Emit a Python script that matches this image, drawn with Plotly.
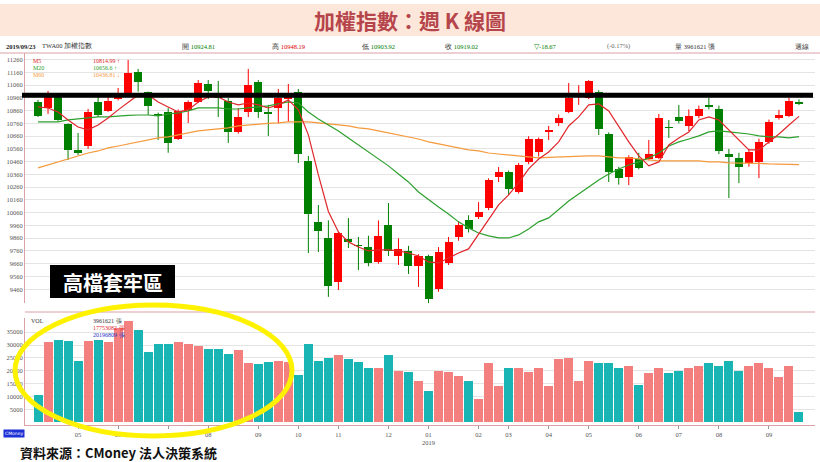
import plotly.graph_objects as go

# ---------------- data ----------------
dates = ["2018-04-02","2018-04-09","2018-04-16","2018-04-23","2018-04-30","2018-05-07","2018-05-14","2018-05-21",
         "2018-05-28","2018-06-04","2018-06-11","2018-06-18","2018-06-25","2018-07-02","2018-07-09","2018-07-16",
         "2018-07-23","2018-07-30","2018-08-06","2018-08-13","2018-08-20","2018-08-27","2018-09-03","2018-09-10",
         "2018-09-17","2018-09-24","2018-10-01","2018-10-08","2018-10-15","2018-10-22","2018-10-29","2018-11-05",
         "2018-11-12","2018-11-19","2018-11-26","2018-12-03","2018-12-10","2018-12-17","2018-12-24","2018-12-31",
         "2019-01-07","2019-01-14","2019-01-21","2019-01-28","2019-02-11","2019-02-18","2019-02-25","2019-03-04",
         "2019-03-11","2019-03-18","2019-03-25","2019-04-01","2019-04-08","2019-04-15","2019-04-22","2019-04-29",
         "2019-05-06","2019-05-13","2019-05-20","2019-05-27","2019-06-03","2019-06-10","2019-06-17","2019-06-24",
         "2019-07-01","2019-07-08","2019-07-15","2019-07-22","2019-07-29","2019-08-05","2019-08-12","2019-08-19",
         "2019-08-26","2019-09-02","2019-09-09","2019-09-16","2019-09-23"]

open_ = [10931,10884,10970,10755,10551,10583,10931,10860,10950,10997,
         11166,11004,10830,10850,10640,10865,10931,11070,10965,10936,
         10694,10850,11088,10850,10881,10955,11009,10465,9987,9862,
         9516,9853,9805,9790,9673,9964,9720,9760,9643,9720,
         9460,9666,9866,10000,10026,10096,10339,10379,10222,10455,
         10534,10700,10763,10850,10975,10960,11006,10677,10402,10339,
         10481,10481,10489,10730,10810,10740,10818,10905,10873,10520,
         10489,10450,10455,10614,10803,10818,10924.81]

high = [10945,11015,10980,10760,10685,10873,10970,10990,11038,11258,
        11187,11010,10845,10880,10870,10940,11100,11100,11093,10960,
        10880,11187,11100,10905,11030,11069,11030,10505,10120,10000,
        9910,10018,9870,9880,9999,10136,9860,9800,9735,9730,
        9790,9870,9990,10040,10143,10330,10418,10390,10450,10660,
        10650,10740,10830,11077,11060,11100,11020,10690,10420,10510,
        10530,10630,10834,10787,10905,10870,10900,10960,10900,10560,
        10530,10560,10640,10790,10866,10960,10948.19]

low = [10810,10834,10780,10473,10512,10560,10810,10850,10940,10980,
       11009,10826,10630,10530,10630,10763,10920,10950,10810,10607,
       10680,10810,10803,10661,10760,10772,10450,9744,9752,9400,
       9454,9783,9610,9640,9660,9720,9650,9580,9478,9320,
       9440,9650,9840,9905,10010,10080,10300,10200,10210,10440,
       10500,10630,10740,10840,10905,10950,10669,10300,10280,10276,
       10400,10470,10480,10646,10760,10700,10800,10870,10520,10175,
       10292,10420,10331,10600,10790,10810,10903.92]

close = [10819,10970,10787,10551,10528,10852,10826,10939,10990,11153,
         11088,10899,10822,10607,10858,10928,11077,11015,10960,10694,
         10810,11062,10848,10835,10960,10990,10518,10050,9916,9486,
         9900,9830,9799,9666,9877,9760,9772,9643,9720,9383,
         9752,9830,9960,9929,10065,10316,10379,10246,10434,10636,
         10636,10708,10803,10960,10980,11093,10716,10378,10331,10496,
         10410,10520,10803,10724,10779,10818,10873,10889,10543,10496,
         10418,10536,10614,10771,10826,10937.69,10919.02]

ma5 = [10889,10881,10850,10787,10732,10709,10748,10803,10866,10928,
       10983,10983,10928,10889,10850,10866,10928,10968,10968,10928,
       10905,10920,10905,10881,10905,10944,10866,10670,10356,10070,
       9909,9831,9791,9760,9768,9768,9760,9744,9721,9674,
       9666,9705,9744,9776,9893,10003,10121,10199,10293,10403,
       10481,10536,10615,10740,10811,10905,10913,10858,10732,10615,
       10505,10427,10458,10591,10646,10693,10787,10811,10787,10709,
       10630,10552,10552,10615,10677,10748,10814.99]

ma20 = [10772,10772,10772,10787,10795,10803,10811,10811,10819,10823,
        10826,10826,10819,10834,10842,10858,10881,10881,10881,10873,
        10873,10881,10889,10897,10913,10928,10920,10850,10795,10748,
        10701,10646,10591,10536,10481,10427,10364,10301,10222,10160,
        10105,10050,9988,9941,9901,9878,9862,9862,9886,9933,
        9988,10019,10082,10152,10207,10262,10317,10364,10403,10434,
        10458,10489,10528,10583,10615,10638,10662,10693,10701,10693,
        10685,10677,10662,10654,10654,10646,10656.6]

ma60 = [10411,10434,10458,10481,10505,10528,10544,10568,10583,10599,
        10615,10630,10646,10654,10670,10685,10701,10709,10717,10725,
        10740,10748,10756,10760,10764,10772,10772,10772,10764,10756,
        10748,10740,10725,10717,10701,10685,10670,10654,10638,10615,
        10599,10583,10568,10552,10544,10528,10520,10513,10505,10497,
        10489,10493,10497,10497,10501,10505,10505,10497,10489,10489,
        10481,10474,10466,10466,10466,10466,10466,10458,10458,10450,
        10450,10450,10446,10442,10442,10440,10436.81]

# weekly volume, in thousands of lots
volume = [10500,31000,32000,31500,24000,31500,32000,31000,36500,39500,
          36000,27500,30500,30500,31000,30500,29500,28500,28500,26500,
          28000,23000,22500,23500,24000,23500,18500,30500,24000,25000,
          26000,24500,23500,21000,21000,26000,20000,19500,16000,12000,
          20000,19500,18000,16000,9000,23000,14000,21000,21000,19500,
          21000,14000,24500,25000,16000,24000,23000,23000,21000,22000,
          14500,19000,21000,19000,20000,21000,22000,23000,22000,24000,
          20000,22000,23000,21000,17500,22000,3961.621]

month_idx = [4, 8, 13, 17, 22, 26, 30, 35, 39, 44, 47, 51, 55, 60, 64, 68, 73]
month_lbl = ["05","06","07","08","09","10","11","12","01<br>2019","02","03","04","05","06","07","08","09"]
price_ticks = [9460,9560,9660,9760,9860,9960,10060,10160,10260,10360,10460,10560,10660,10760,10860,10960,11060,11160,11260]
vol_ticks = [5000,10000,15000,20000,25000,30000,35000]
resistance = 10980

# ---------------- styling helpers ----------------
W, H = 820, 462
ML, MR, MT, MB = 25, 5, 53, 37
PW, PH = W - ML - MR, H - MT - MB
def px(x): return (x - ML) / PW
def py(y): return (H - MB - y) / PH

UP, DN = "#ff0000", "#008000"
VUP, VDN = "#f47f7f", "#19b4b4"
SERIF = "Liberation Serif"

fig = go.Figure()

up = [c >= o for o, c in zip(open_, close)]

# wicks
for flag, col in ((True, UP), (False, DN)):
    xs, ys = [], []
    for d, h_, l_, u in zip(dates, high, low, up):
        if u == flag:
            xs += [d, d, None]
            ys += [l_, h_, None]
    fig.add_trace(go.Scatter(x=xs, y=ys, mode="lines", line=dict(color=col, width=1),
                             hoverinfo="skip", showlegend=False, xaxis="x", yaxis="y"))

# bodies
for flag, col in ((True, UP), (False, DN)):
    xs = [d for d, u in zip(dates, up) if u == flag]
    base = [min(o, c) for o, c, u in zip(open_, close, up) if u == flag]
    hgt = [max(abs(c - o), 7) for o, c, u in zip(open_, close, up) if u == flag]
    fig.add_trace(go.Bar(x=xs, y=hgt, base=base, width=0.8, marker=dict(color=col, line=dict(width=0)),
                         showlegend=False, xaxis="x", yaxis="y"))

# moving averages
for vals, col in ((ma60, "#f59a3c"), (ma20, "#2ca02c"), (ma5, "#e0262b")):
    fig.add_trace(go.Scatter(x=dates, y=vals, mode="lines", line=dict(color=col, width=1.2),
                             showlegend=False, xaxis="x", yaxis="y"))

# volume
fig.add_trace(go.Bar(x=dates, y=volume, width=0.9,
                     marker=dict(color=[VUP if u else VDN for u in up], line=dict(width=0)),
                     showlegend=False, xaxis="x", yaxis="y2"))

fig.update_layout(
    width=W, height=H, margin=dict(l=ML, r=MR, t=MT, b=MB),
    paper_bgcolor="white", plot_bgcolor="white", barmode="overlay", bargap=0,
    showlegend=False,
    xaxis=dict(type="category", categoryorder="array", categoryarray=dates,
               range=[-1.3, 77.6], anchor="y2",
               tickmode="array", tickvals=[dates[i] for i in month_idx], ticktext=month_lbl,
               tickfont=dict(size=6.5, family=SERIF, color="#555"), tickangle=0,
               ticks="outside", ticklen=3, tickcolor="#999",
               showline=True, linecolor="#d9a0a6", showgrid=False, zeroline=False),
    yaxis=dict(domain=[py(303), 1.0], range=[9352, 11312], tickvals=price_ticks, tickformat="d",
               tickfont=dict(size=6.5, family=SERIF, color="#555"),
               showgrid=True, gridcolor="#e4e4e4", gridwidth=1,
               showline=True, linecolor="#d9a0a6", zeroline=False, ticks=""),
    yaxis2=dict(domain=[0, py(318)], range=[-1000, 40500], tickvals=vol_ticks, tickformat="d",
                tickfont=dict(size=6.5, family=SERIF, color="#555"),
                showgrid=True, gridcolor="#e4e4e4", gridwidth=1,
                showline=True, linecolor="#d9a0a6", zeroline=False, ticks=""),
)

shapes = []
shapes.append(dict(type="rect", xref="paper", yref="paper", x0=px(0), x1=px(820), y0=py(36), y1=py(4),
                   fillcolor="#fde6da", line=dict(width=0), layer="below"))
shapes.append(dict(type="line", xref="paper", yref="paper", x0=px(0), x1=px(820), y0=py(53), y1=py(53),
                   line=dict(color="#d9a0a6", width=1)))
shapes.append(dict(type="line", xref="paper", yref="paper", x0=0, x1=1, y0=py(312), y1=py(312),
                   line=dict(color="#d9a0a6", width=1)))
shapes.append(dict(type="line", xref="paper", yref="y", x0=px(22), x1=px(813), y0=resistance, y1=resistance,
                   line=dict(color="black", width=5)))
shapes.append(dict(type="rect", xref="paper", yref="paper", x0=px(50), x1=px(175), y0=py(298), y1=py(265),
                   fillcolor="black", line=dict(width=0)))
shapes.append(dict(type="circle", xref="paper", yref="paper", x0=px(15), x1=px(292), y0=py(436), y1=py(305),
                   line=dict(color="#fff200", width=5)))
fig.update_layout(shapes=shapes)

ann = []
def txt(x, y, s, size=6.5, color="#333", family=SERIF, xanchor="left", bold=False):
    ann.append(dict(x=px(x), y=py(y), xref="paper", yref="paper", text=("<b>%s</b>" % s) if bold else s,
                    showarrow=False, xanchor=xanchor, yanchor="middle",
                    font=dict(size=size, color=color, family=family)))

txt(410, 20, "加權指數：週 K 線圖", size=21, color="#b5454b", family="Noto Sans CJK TC", xanchor="center", bold=True)
txt(4, 46, "2019/09/23", bold=True, color="#222")
txt(40, 46, "TWA00 加權指數", color="#333")
txt(180, 46, "開 <span style='color:#008000'>10924.81</span>")
txt(270, 46, "高 <span style='color:#e00000'>10948.19</span>")
txt(360, 46, "低 <span style='color:#008000'>10903.92</span>")
txt(443, 46, "收 <span style='color:#008000'>10919.02</span>")
txt(532, 46, "▽-18.67", color="#008000")
txt(605, 46, "(-0.17%)", color="#666")
txt(673, 46, "量 3961621 張")
txt(793, 46, "週線")
txt(31, 61, "M5", size=6, color="#e0262b")
txt(31, 68, "M20", size=6, color="#2ca02c")
txt(31, 75, "M60", size=6, color="#f59a3c")
txt(91, 61, "10814.99 ↑", size=6, color="#e0262b")
txt(91, 68, "10656.6 ↑", size=6, color="#2ca02c")
txt(91, 75, "10436.81 ↓", size=6, color="#f59a3c")
txt(29, 321, "VOL", size=6, color="#333")
txt(91, 321, "3961621 張", size=6, color="#333")
txt(91, 328, "17753082 張", size=6, color="#e0262b")
txt(91, 335, "20196809 張", size=6, color="#2030c0")
txt(112.5, 282, "高檔套牢區", size=20, color="white", family="Noto Sans CJK TC", xanchor="center", bold=True)
ann.append(dict(x=px(3), y=py(433), xref="paper", yref="paper", text="CMoney", showarrow=False,
                xanchor="left", yanchor="middle", bgcolor="#1f2fd6", borderpad=1,
                font=dict(size=4.5, color="white", family="DejaVu Sans")))
txt(18, 452, "資料來源：CMoney 法人決策系統", size=13, color="#111", family="Noto Sans CJK TC", bold=True)
fig.update_layout(annotations=ann)

fig.write_html("out.html", config={"displayModeBar": False},
               post_script="document.body.style.margin='0';document.body.style.overflow='hidden';")
